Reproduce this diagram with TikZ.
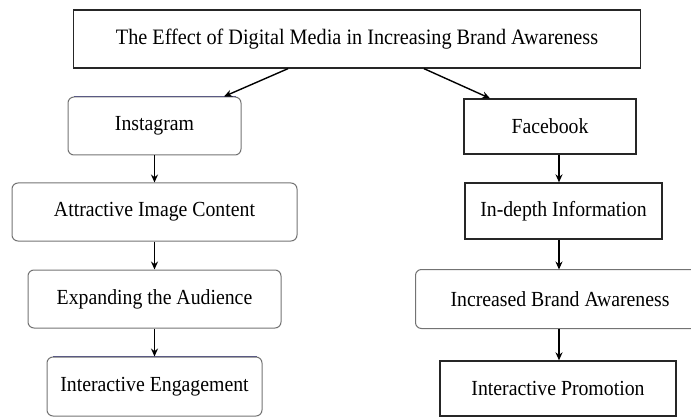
\documentclass[tikz,border=0pt]{standalone}
\usepackage{fontspec}
\setmainfont{Liberation Serif}[FakeStretch=0.92]
\usetikzlibrary{positioning,arrows.meta}

\begin{document}
\begin{tikzpicture}[x=1pt,y=-1pt]
    % Define styles
    \tikzstyle{plainbox}=[draw=black!85, line width=1.3pt, inner sep=0pt, minimum height=56pt, font=\fontsize{21.5}{25}\selectfont]
    \tikzstyle{roundbox}=[draw=black!55, line width=1pt, rounded corners=6pt, inner sep=0pt, minimum height=58pt, font=\fontsize{21.5}{25}\selectfont]
    \tikzstyle{flow}=[line width=1.4pt, -{Stealth[length=8pt,width=7pt]}]
    \tikzstyle{topedge}=[line width=1.2pt, color=blue!25!black!65]

    \useasboundingbox (0,0) rectangle (691,417);
    \clip (0,0) rectangle (691,417);

    % --- 1. Title box ---
    \node[plainbox, minimum width=567pt, minimum height=58pt, font=\fontsize{22}{26}\selectfont] (title) at (357,39) {The Effect of Digital Media in Increasing Brand Awareness};

    % --- 2. Left column (Instagram) ---
    \node[roundbox, minimum width=173pt] (insta) at (154.5,126) {Instagram};
    \node[roundbox, minimum width=285pt] (attract) at (154.5,212) {Attractive Image Content};
    \node[roundbox, minimum width=253pt] (expand) at (154.5,299) {Expanding the Audience};
    \node[roundbox, minimum width=215pt, minimum height=59pt] (engage) at (154.5,386.5) {Interactive Engagement};

    % tinted top edges
    \draw[topedge] ([xshift=6pt]insta.north west) -- ([xshift=-6pt]insta.north east);
    \draw[topedge] ([xshift=6pt]engage.north west) -- ([xshift=-6pt]engage.north east);

    % --- 3. Right column (Facebook) ---
    \node[plainbox, minimum width=172pt, minimum height=55pt] (fb) at (550,126.5) {Facebook};
    \node[plainbox, minimum width=197pt] (depth) at (563.5,211) {In-depth Information};
    % this one runs off the right edge, so its outline is left open there
    \node[roundbox, draw=none, minimum width=288pt] (aware) at (560,299) {Increased Brand Awareness};
    \draw[draw=black!55, line width=1pt, rounded corners=6pt] ([xshift=20pt]aware.north east) -- (aware.north west) -- (aware.south west) -- ([xshift=20pt]aware.south east);
    \node[plainbox, minimum width=236pt, minimum height=55pt] (promo) at (558,388.5) {Interactive Promotion};

    % --- 4. Arrows ---
    \draw[flow] ([xshift=-69pt]title.south) -- ([xshift=69.5pt]insta.north);
    \draw[flow] ([xshift=67pt]title.south) -- ([xshift=-60pt]fb.north);

    \draw[flow] (insta) -- (attract);
    \draw[flow] (attract) -- (expand);
    \draw[flow] (expand) -- (engage);

    \coordinate (rcol) at (559,0);
    \draw[flow] (fb.south -| rcol) -- (depth.north -| rcol);
    \draw[flow] (depth.south -| rcol) -- (aware.north -| rcol);
    \draw[flow] (aware.south -| rcol) -- (promo.north -| rcol);

\end{tikzpicture}
\end{document}
